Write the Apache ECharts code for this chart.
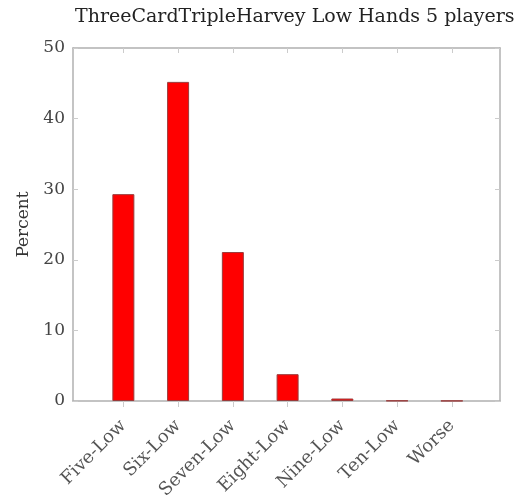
<!DOCTYPE html>
<html>
<head>
    <meta charset="UTF-8">
    <title></title>
</head>
<body style="margin:0">
<div id="main" style="width: 517px;height:495px;"></div>
<script type="text/javascript" src="https://cdn.jsdelivr.net/npm/echarts@6/dist/echarts.min.js"></script>
<script type="text/javascript">
    // data
    var categories = ['Five-Low', 'Six-Low', 'Seven-Low', 'Eight-Low', 'Nine-Low', 'Ten-Low', 'Worse'];
    var percents = [29.3, 45.2, 21.1, 3.8, 0.35, 0.05, 0.03];
    var yTicks = [0, 10, 20, 30, 40, 50];

    var positions = categories.map(function (c, i) { return i; });
    var barData = percents.map(function (v, i) { return [i, v]; });

    var font = '"DejaVu Serif", "Liberation Serif", serif';
    var frame = '#b0b0b0';

    var myChart = echarts.init(document.getElementById('main'));
    var option = {
        animation: false,
        title: {
            text: 'ThreeCardTripleHarvey Low Hands 5 players',
            left: 70,
            top: 3,
            textStyle: {fontFamily: font, fontWeight: 'normal', fontSize: 19, color: '#222'}
        },
        grid: {left: 73, right: 17, top: 48, bottom: 94, outerBoundsMode: 'none'},
        xAxis: [
            {
                type: 'value',
                min: -0.92,
                max: 6.88,
                splitLine: {show: false},
                axisLine: {onZero: false, lineStyle: {color: frame, width: 1.5}},
                axisTick: {customValues: positions, length: 6, lineStyle: {color: '#ccc'}},
                axisLabel: {
                    customValues: positions,
                    rotate: 45,
                    margin: 22,
                    fontFamily: font,
                    fontSize: 18,
                    color: '#555',
                    formatter: function (v) { return categories[Math.round(v)]; }
                }
            },
            {
                type: 'value',
                position: 'top',
                min: -0.92,
                max: 6.88,
                splitLine: {show: false},
                axisLine: {show: true, onZero: false, lineStyle: {color: frame, width: 1.5}},
                axisTick: {show: true, customValues: positions, inside: true, length: 5, lineStyle: {color: '#ccc'}},
                axisLabel: {show: false}
            }
        ],
        yAxis: [
            {
                type: 'value',
                name: 'Percent',
                nameLocation: 'middle',
                nameGap: 40,
                nameTextStyle: {fontFamily: font, fontSize: 17, color: '#333'},
                min: 0,
                max: 50,
                interval: 10,
                splitLine: {show: false},
                axisLine: {show: true, onZero: false, lineStyle: {color: frame, width: 1.5}},
                axisTick: {show: true, inside: true, length: 5, lineStyle: {color: '#ccc'}},
                axisLabel: {
                    fontFamily: font,
                    fontSize: 17,
                    color: '#444',
                    margin: 8,
                    customValues: yTicks
                }
            },
            {
                type: 'value',
                position: 'right',
                min: 0,
                max: 50,
                interval: 10,
                splitLine: {show: false},
                axisLine: {show: true, onZero: false, lineStyle: {color: frame, width: 1.5}},
                axisTick: {show: true, inside: true, length: 5, lineStyle: {color: '#ccc'}},
                axisLabel: {show: false}
            }
        ],
        series: [
            {
                type: 'bar',
                xAxisIndex: 0,
                yAxisIndex: 0,
                barWidth: 22,
                data: barData,
                itemStyle: {color: '#ff0000', borderColor: '#9a3a3a', borderWidth: 1}
            }
        ]
    };
    myChart.setOption(option);
</script>
</body>
</html>
